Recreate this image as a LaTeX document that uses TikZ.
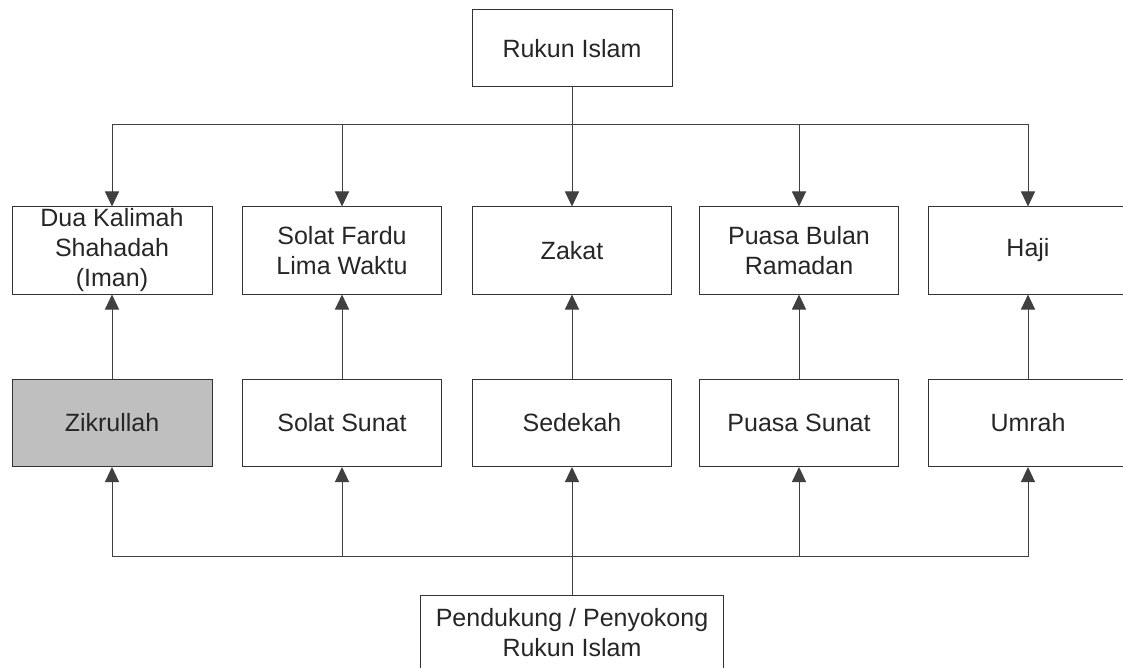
\documentclass[tikz,border=0pt]{standalone}
\usepackage{fontspec}
\setmainfont{Liberation Sans}
\usetikzlibrary{arrows.meta}
\begin{document}
\begin{tikzpicture}[x=1pt,y=-1pt,
  box/.style={draw=black!80, line width=1pt, minimum width=199pt, minimum height=87pt,
    align=center, font=\fontsize{25}{30}\selectfont, text=black!85, inner sep=0pt},
  conn/.style={draw=black!75, line width=1pt},
  arr/.style={conn, -{Triangle[width=14pt,length=15pt]}}]
\useasboundingbox (0,0) rectangle (1123,668);
\clip (0,0) rectangle (1123,668);
% top
\node[box, minimum width=200pt, minimum height=77pt] (rukun) at (572,48.5) {Rukun Islam};
% row 1
\node[box, minimum width=200pt] (iman) at (112,250.5) {Dua Kalimah\\Shahadah\\(Iman)};
\node[box] (fardu) at (342,250.5) {Solat Fardu\\Lima Waktu};
\node[box] (zakat) at (572,250.5) {Zakat};
\node[box] (puasa) at (799,250.5) {Puasa Bulan\\Ramadan};
\node[box, minimum width=200pt] (haji) at (1028,250.5) {Haji};
% row 2
\node[box, minimum width=200pt, fill=black!25] (zikr) at (112,423) {Zikrullah};
\node[box] (ssunat) at (342,423) {Solat Sunat};
\node[box] (sedekah) at (572,423) {Sedekah};
\node[box] (psunat) at (799,423) {Puasa Sunat};
\node[box, minimum width=200pt] (umrah) at (1028,423) {Umrah};
% bottom
\node[box, minimum width=303pt, minimum height=76pt] (pend) at (572,633) {Pendukung / Penyokong\\Rukun Islam};
% connectors top
\coordinate (hubT) at (572,125);
\draw[conn] (rukun.south) -- (hubT);
\foreach \n in {iman,fardu,zakat,puasa,haji} \draw[arr] (hubT) -| (\n.north);
% vertical
\draw[arr] (zikr.north) -- (iman.south);
\draw[arr] (ssunat.north) -- (fardu.south);
\draw[arr] (sedekah.north) -- (zakat.south);
\draw[arr] (psunat.north) -- (puasa.south);
\draw[arr] (umrah.north) -- (haji.south);
% bottom connectors
\coordinate (hubB) at (572,556);
\draw[conn] (pend.north) -- (hubB);
\foreach \n in {zikr,ssunat,sedekah,psunat,umrah} \draw[arr] (hubB) -| (\n.south);
\end{tikzpicture}
\end{document}
